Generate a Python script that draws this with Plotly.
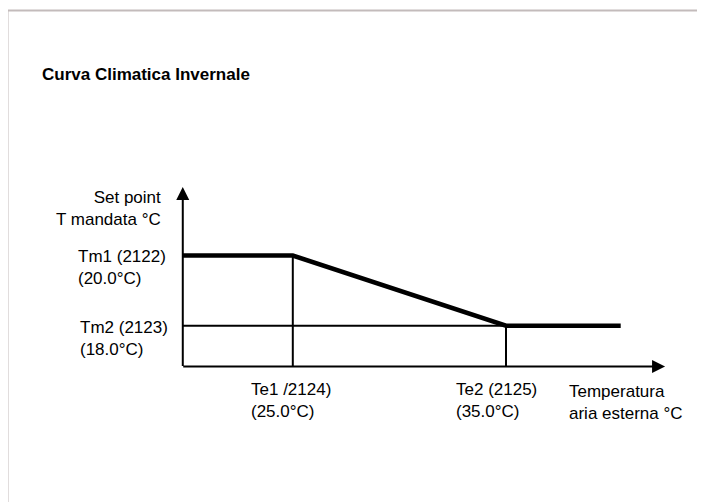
import plotly.graph_objects as go

# ---- data ----
title_text = "Curva Climatica Invernale"
te_values = [25.0, 35.0]          # Te1, Te2 (outside air temperature)
tm_values = [20.0, 18.0]          # Tm1, Tm2 (flow set point)
x_origin = 19.84
x_curve_end = 40.38
x_arrow_end = 42.46
y_origin = 16.84
y_arrow_end = 21.95

curve_x = [x_origin, te_values[0], te_values[1], x_curve_end]
curve_y = [tm_values[0], tm_values[0], tm_values[1], tm_values[1]]

y_axis_label = "Set point<br>T mandata °C"
x_axis_label = "Temperatura<br>aria esterna °C"
tm_labels = ["Tm1 (2122)<br>(20.0°C)", "Tm2 (2123)<br>(18.0°C)"]
te_labels = ["Te1 /2124)<br>(25.0°C)", "Te2 (2125)<br>(35.0°C)"]

# page body has an 8px margin, so the figure is drawn 8px in and sized to fit the window
OFF = 8
W, H = 705 - OFF, 502 - OFF
FONT = "Liberation Sans, Arial, sans-serif"

fig = go.Figure()

# guide lines (thin)
fig.add_trace(go.Scatter(x=[te_values[0], te_values[0]], y=[y_origin, tm_values[0]],
                         mode="lines", line=dict(color="black", width=2), hoverinfo="skip"))
fig.add_trace(go.Scatter(x=[te_values[1], te_values[1]], y=[y_origin, tm_values[1]],
                         mode="lines", line=dict(color="black", width=2), hoverinfo="skip"))
fig.add_trace(go.Scatter(x=[x_origin, te_values[1]], y=[tm_values[1], tm_values[1]],
                         mode="lines", line=dict(color="black", width=2), hoverinfo="skip"))
# climatic curve (thick)
fig.add_trace(go.Scatter(x=curve_x, y=curve_y, mode="lines",
                         line=dict(color="black", width=4.5), hoverinfo="skip"))

# axes with arrows
fig.add_annotation(x=x_origin, y=y_arrow_end, ax=x_origin, ay=y_origin - 0.03,
                   xref="x", yref="y", axref="x", ayref="y", text="",
                   showarrow=True, arrowhead=2, arrowsize=1.3, arrowwidth=2, arrowcolor="black")
fig.add_annotation(x=x_arrow_end, y=y_origin, ax=x_origin - 0.05, ay=y_origin,
                   xref="x", yref="y", axref="x", ayref="y", text="",
                   showarrow=True, arrowhead=2, arrowsize=1.3, arrowwidth=2, arrowcolor="black")

def px_x(p):
    return (p - OFF) / W

def px_y(p):
    return 1 - (p - OFF) / H

lab_font = dict(family=FONT, size=17, color="black")

# title
fig.add_annotation(x=px_x(40), y=px_y(74), xref="paper", yref="paper", text="<b>" + title_text + "</b>",
                   showarrow=False, xanchor="left", yanchor="middle",
                   font=dict(family=FONT, size=17, color="black"))
# y-axis label
fig.add_annotation(x=px_x(163), y=px_y(208), xref="paper", yref="paper", text=y_axis_label,
                   showarrow=False, xanchor="right", yanchor="middle", align="right", font=lab_font)
# x-axis label
fig.add_annotation(x=px_x(567), y=px_y(402), xref="paper", yref="paper", text=x_axis_label,
                   showarrow=False, xanchor="left", yanchor="middle", align="left", font=lab_font)
# Tm labels
for lbl, ypix, xpix in zip(tm_labels, [267.5, 338.5], [76, 78]):
    fig.add_annotation(x=px_x(xpix), y=px_y(ypix), xref="paper", yref="paper", text=lbl,
                       showarrow=False, xanchor="left", yanchor="middle", align="left", font=lab_font)
# Te labels
for lbl, xpix in zip(te_labels, [249, 454]):
    fig.add_annotation(x=px_x(xpix), y=px_y(400.5), xref="paper", yref="paper", text=lbl,
                       showarrow=False, xanchor="left", yanchor="middle", align="left", font=lab_font)

# frame border (grey, top and left visible)
fig.add_shape(type="line", xref="paper", yref="paper", x0=px_x(7.5), x1=1.02, y0=px_y(10.5), y1=px_y(10.5),
              line=dict(color="#c3bbbb", width=2))
fig.add_shape(type="line", xref="paper", yref="paper", x0=px_x(7.5), x1=px_x(7.5), y0=px_y(10.5), y1=-0.02,
              line=dict(color="#c3bbbb", width=2))

fig.update_layout(
    width=W, height=H,
    margin=dict(l=0, r=0, t=0, b=0),
    paper_bgcolor="white", plot_bgcolor="white",
    showlegend=False,
    xaxis=dict(range=[11.642, 44.334], visible=False, fixedrange=True),
    yaxis=dict(range=[12.977, 27.051], visible=False, fixedrange=True),
)

fig.write_html("out.html")
